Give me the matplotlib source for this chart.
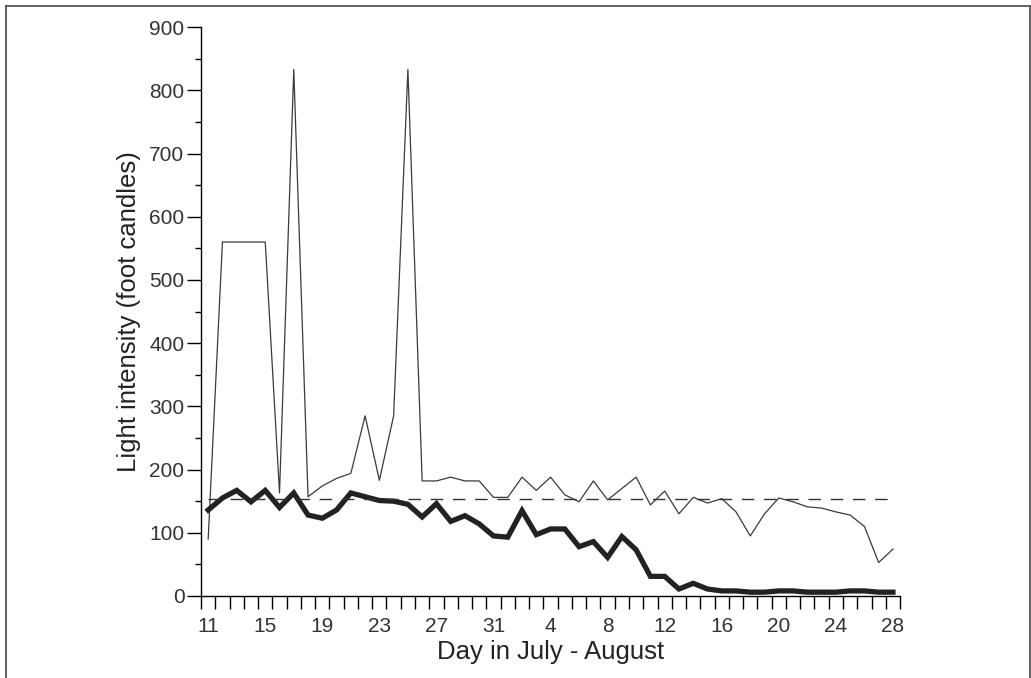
import matplotlib.pyplot as plt
from matplotlib.lines import Line2D

# days July 11 - August 28
dias = [11, 12, 13, 14, 15, 16, 17, 18, 19, 20, 21, 22, 23, 24, 25, 26, 27, 28, 29, 30, 31,
        1, 2, 3, 4, 5, 6, 7, 8, 9, 10, 11, 12, 13, 14, 15, 16, 17, 18, 19, 20,
        21, 22, 23, 24, 25, 26, 27, 28]

luz_fora = [90, 560, 560, 560, 560, 163, 833, 157, 174, 186, 194, 285, 183, 285, 833,
            182, 182, 188, 182, 182, 156, 156, 188, 167, 188, 160, 149, 182, 152, 170,
            188, 144, 166, 130, 156, 147, 154, 133, 95, 130, 155, 149, 141, 139, 133,
            128, 110, 53, 74]

luz_dentro = [136, 155, 167, 149, 167, 140, 163, 128, 123, 136, 163, 157, 151, 150, 145,
              125, 146, 118, 127, 114, 95, 93, 135, 97, 106, 106, 78, 86, 61, 94,
              73, 31, 31, 11, 20, 11, 8, 8, 6, 6, 8, 8, 6, 6, 6,
              8, 8, 6, 6]

referencia = 153

plt.rcParams['font.family'] = ['Liberation Sans', 'DejaVu Sans']

fig = plt.figure(figsize=(10.31, 6.78), dpi=100)
ax = fig.add_axes([0.195, 0.121, 0.678, 0.839])

x = list(range(len(dias)))
ax.plot(x, luz_fora, color='#3a3a3a', linewidth=0.9)
ax.plot(x, luz_dentro, color='#222222', linewidth=3.8, solid_joinstyle='miter')
ax.plot([x[0], x[-1]], [referencia, referencia], color='#333333', linewidth=1.0,
        linestyle=(0, (9, 7)))

ax.set_xlim(-0.5, len(dias) - 0.5)
ax.set_ylim(0, 900)

ax.spines['top'].set_visible(False)
ax.spines['right'].set_visible(False)
ax.spines['left'].set_linewidth(1.0)
ax.spines['bottom'].set_linewidth(1.0)

ax.set_xticks(x[::4])
ax.set_xticklabels([str(d) for d in dias[::4]])
ax.set_xticks([i - 0.5 for i in range(len(dias) + 1)], minor=True)
ax.tick_params(axis='x', which='major', length=0, pad=15, labelsize=15, colors='#333333')
ax.tick_params(axis='x', which='minor', length=9, width=1.0, direction='out')

ax.set_yticks(range(0, 901, 100))
ax.set_yticks(range(50, 900, 100), minor=True)
ax.tick_params(axis='y', which='major', length=10, width=1.0, pad=2, labelsize=15, colors='#333333')
ax.tick_params(axis='y', which='minor', length=4.5, width=1.0)
ax.tick_params(axis='y', which='major', color='black')

ax.set_xlabel('Day in July - August', fontsize=18.5, color='#222222', labelpad=3)
ax.set_ylabel('Light intensity (foot candles)', fontsize=18.5, color='#222222', labelpad=6)

# moldura da figura
borda = dict(color='#555555', linewidth=1.3, transform=fig.transFigure)
fig.add_artist(Line2D([5.5 / 1031, 5.5 / 1031], [0, 1 - 5.5 / 678], **borda))
fig.add_artist(Line2D([5.5 / 1031, 1029.5 / 1031], [1 - 5.5 / 678, 1 - 5.5 / 678], **borda))
fig.add_artist(Line2D([1029.5 / 1031, 1029.5 / 1031], [0, 1 - 5.5 / 678], **borda))

fig.savefig('out.png', dpi=100)
